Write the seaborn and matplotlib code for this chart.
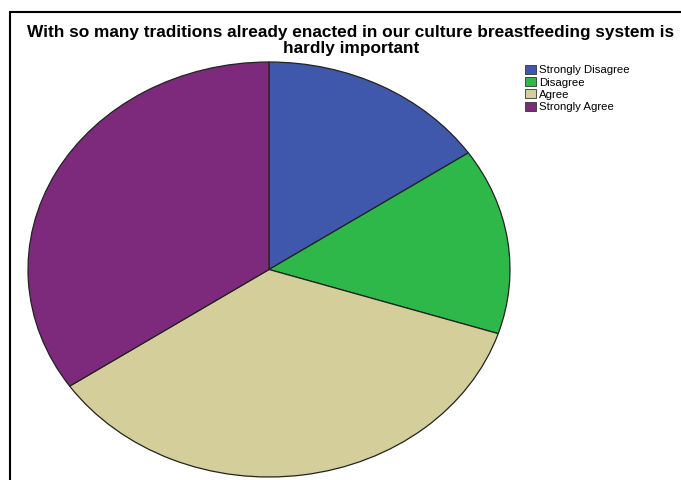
import matplotlib
matplotlib.use("Agg")
import matplotlib.pyplot as plt
from matplotlib.lines import Line2D
import seaborn as sns

categories = ["Strongly Disagree", "Disagree", "Agree", "Strongly Agree"]
counts = [31, 29, 71, 69]
colors = ["#3F58AB", "#2EB84A", "#D4CF9A", "#7D2A7C"]
title_lines = ["With so many traditions already enacted in our culture breastfeeding system is",
               "hardly important"]

sns.set_theme(style="white")
plt.rcParams["font.family"] = ["Liberation Sans", "DejaVu Sans"]
plt.rcParams["text.color"] = "black"

W, H = 681, 480
fig = plt.figure(figsize=(W / 100, H / 100), dpi=100)
fig.patch.set_facecolor("white")

# pie stretched into an ellipse by an axes without equal aspect
ax = fig.add_axes([28 / W, 3 / H, 482 / W, 415 / H])
palette = sns.color_palette(colors)
wedges, _ = ax.pie(counts, colors=palette, startangle=90, counterclock=False,
                   wedgeprops=dict(edgecolor="#222222", linewidth=0.9))
ax.set_aspect("auto")
ax.set_xlim(-1, 1)
ax.set_ylim(-1, 1)
ax.axis("off")

# two-line title with fixed line positions
for y, line in zip([33, 49], title_lines):
    fig.text(351 / W, 1 - y / H, line, ha="center", va="center",
             fontsize=12.4, fontweight="bold", color="black")

leg = fig.legend(wedges, categories, loc="upper left",
                 bbox_to_anchor=(517 / W, 1 - 57 / H), frameon=False,
                 fontsize=8.2, handlelength=0.95, handleheight=0.85,
                 handletextpad=0.3, labelspacing=0.15, borderpad=0.2)
for h in leg.legend_handles:
    h.set_edgecolor("#333333")
    h.set_linewidth(0.6)

# outer frame lines
fig.add_artist(Line2D([10 / W, 1.0], [1 - 12 / H, 1 - 12 / H], color="black", lw=1.5,
                      transform=fig.transFigure))
fig.add_artist(Line2D([10 / W, 10 / W], [1 - 12 / H, 0], color="black", lw=1.5,
                      transform=fig.transFigure))

fig.savefig("out.png", dpi=100)
